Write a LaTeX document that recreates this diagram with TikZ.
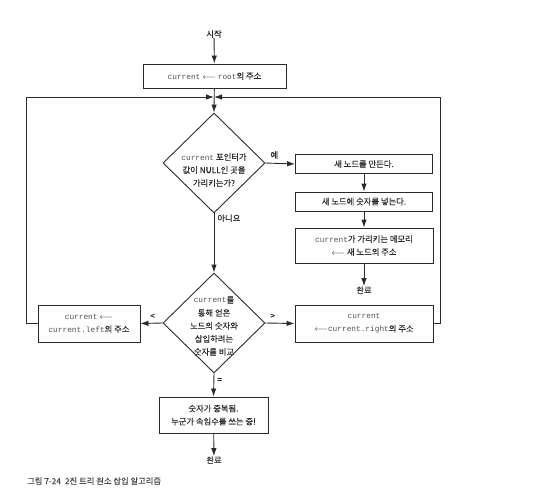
\documentclass[tikz,border=0pt]{standalone}
\usepackage{fontspec}
\setmainfont{Noto Sans CJK KR}[FakeBold=0.35]
\setmonofont{Liberation Mono}
\usetikzlibrary{shapes.geometric,arrows.meta}
\definecolor{ink}{HTML}{2a2a2a}
\definecolor{monoink}{HTML}{505050}
\tikzset{
  box/.style={draw=ink, line width=0.9pt, inner sep=0pt, align=center, font=\fontsize{8.3}{13}\selectfont, text=ink},
  dia/.style={draw=ink, line width=0.9pt, diamond, inner sep=0pt, minimum width=102pt, minimum height=100pt},
  txt/.style={inner sep=0pt, align=center, font=\fontsize{8.3}{13}\selectfont, text=ink},
  arr/.style={draw=ink, line width=0.9pt, -{Latex[length=8pt,width=5.5pt]}},
  lbl/.style={inner sep=0pt, font=\fontsize{8.3}{9}\selectfont, text=ink}
}
\newcommand{\cw}[1]{{\ttfamily\fontsize{7.8}{13}\selectfont\color{monoink}#1}}
\newcommand{\la}{$\longleftarrow$}
\begin{document}
\begin{tikzpicture}[x=1pt,y=-1pt]
\useasboundingbox (0,0) rectangle (539,496);
\node[txt] (start) at (214,34) {시작};
\node[box, minimum width=143pt, minimum height=24pt] (b1) at (214.5,76) {\cw{current} \la{} \cw{root}의 주소};
\coordinate (join) at (214,97);
\node[dia] (d1) at (214,163) {};
\node[txt] (d1t) at (214,170) {\cw{current} 포인터가\\값이 NULL인 곳을\\가리키는가?};
\node[box, minimum width=137pt, minimum height=19pt] (y1) at (364,164) {새 노드를 만든다.};
\node[box, minimum width=137pt, minimum height=19pt] (y2) at (364,201.5) {새 노드에 숫자를 넣는다.};
\node[box, minimum width=138pt, minimum height=35pt] (y3) at (364,245.5) {\cw{current}가 가리키는 메모리\\\la{} 새 노드의 주소};
\node[txt] (done1) at (364,290) {완료};
\node[dia] (d2) at (214,323) {};
\node[txt] (d2t) at (214,326) {\cw{current}를\\통해 얻은\\노드의 숫자와\\삽입하려는\\숫자를 비교};
\node[box, minimum width=138pt, minimum height=37pt] (rb) at (364,323.5) {\cw{current}\\\la\cw{current.right}의 주소};
\node[box, minimum width=102pt, minimum height=37pt] (lb) at (89,323.5) {\cw{current} \la\\\cw{current.left}의 주소};
\node[box, minimum width=109pt, minimum height=36pt] (eq) at (213.5,415) {숫자가 중복됨.\\누군가 속임수를 쓰는 중!};
\node[txt] (done2) at (214,460) {완료};
\node[lbl, anchor=west, text=ink!85] (cap) at (27,481) {그림 7-24\hspace{4pt}2진 트리 원소 삽입 알고리즘};
% connectors
\draw[arr] (start) -- (b1);
\draw[arr] (b1) -- (d1.north);
\draw[arr] (lb.west) -- ++(-11,0) |- (join);
\draw[arr] (rb.east) -- ++(7,0) |- (join);
\draw[arr] (d1.east) -- node[lbl, pos=0.3, above=4pt] (yes) {예} (y1.west);
\draw[arr] (y1) -- (y2);
\draw[arr] (y2) -- (y3);
\draw[arr] (y3) -- (done1);
\draw[arr] (d1.south) -- node[lbl, pos=0.08, right=3pt] (no) {아니요} (d2.north);
\draw[arr] (d2.west) -- node[lbl, pos=0.45, above=4pt] (lt) {<} (lb.east);
\draw[arr] (d2.east) -- node[lbl, pos=0.25, above=4pt] (gt) {>} (rb.west);
\draw[arr] (d2.south) -- node[lbl, pos=0.3, right=3pt] (eqs) {=} (eq.north);
\draw[arr] (eq) -- (done2);
\end{tikzpicture}
\end{document}
